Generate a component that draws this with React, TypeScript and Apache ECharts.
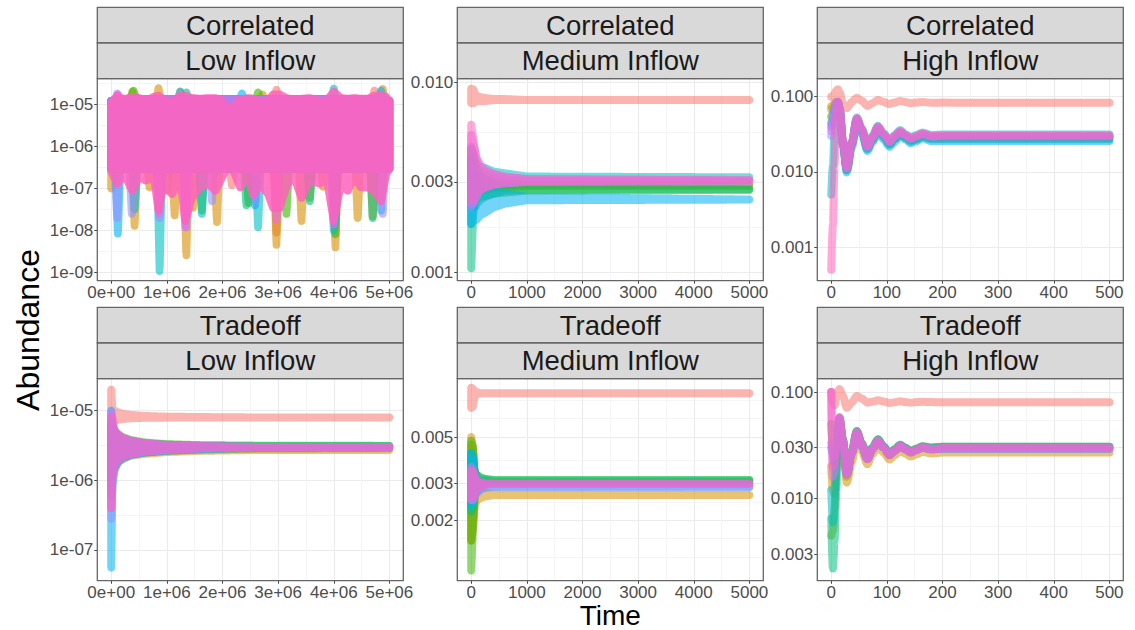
import React, { useEffect, useRef } from "react";
import * as echarts from "echarts";

const FONT = '"Liberation Sans", Arial, Helvetica, sans-serif';

// ggplot default hue palette for 10 species
const SPECIES_COLORS = ["#F8766D", "#D89000", "#A3A500", "#39B600", "#00BF7D", "#00BFC4", "#00B0F6", "#9590FF", "#E76BF3", "#FF62BC"];

const STRIP_TOP = ["Correlated", "Correlated", "Correlated", "Tradeoff", "Tradeoff", "Tradeoff"];
const STRIP_BOTTOM = ["Low Inflow", "Medium Inflow", "High Inflow", "Low Inflow", "Medium Inflow", "High Inflow"];
const X_TITLE = "Time";
const Y_TITLE = "Abundance";

// x axis ticks
const X_TICKS_LOW = [0, 1e6, 2e6, 3e6, 4e6, 5e6];
const X_LABELS_LOW = ["0e+00", "1e+06", "2e+06", "3e+06", "4e+06", "5e+06"];
const X_MINOR_LOW = [5e5, 1.5e6, 2.5e6, 3.5e6, 4.5e6];
const X_LIM_LOW = [-2.5e5, 5.25e6];
const X_TICKS_MED = [0, 1000, 2000, 3000, 4000, 5000];
const X_LABELS_MED = ["0", "1000", "2000", "3000", "4000", "5000"];
const X_MINOR_MED = [500, 1500, 2500, 3500, 4500];
const X_LIM_MED = [-250, 5250];
const X_TICKS_HIGH = [0, 100, 200, 300, 400, 500];
const X_LABELS_HIGH = ["0", "100", "200", "300", "400", "500"];
const X_MINOR_HIGH = [50, 150, 250, 350, 450];
const X_LIM_HIGH = [-25, 525];

// y axis ticks (abundance values, log10 scale) per panel
const Y_TICKS = [
  [1e-9, 1e-8, 1e-7, 1e-6, 1e-5],
  [0.001, 0.003, 0.01],
  [0.001, 0.01, 0.1],
  [1e-7, 1e-6, 1e-5],
  [0.002, 0.003, 0.005],
  [0.003, 0.01, 0.03, 0.1],
];
const Y_LABELS = [
  ["1e-09", "1e-08", "1e-07", "1e-06", "1e-05"],
  ["0.001", "0.003", "0.010"],
  ["0.001", "0.010", "0.100"],
  ["1e-07", "1e-06", "1e-05"],
  ["0.002", "0.003", "0.005"],
  ["0.003", "0.010", "0.030", "0.100"],
];
// minor grid lines, log10 units
const Y_MINOR_LOG = [
  [-8.5, -7.5, -6.5, -5.5, -4.5],
  [-2.7615, -2.2615],
  [-2.5, -1.5],
  [-6.5, -5.5],
  [-2.875, -2.787, -2.611, -2.412, -2.213, -2.125],
  [-2.2615, -1.7615, -1.2615],
];
// y limits, log10 units
const Y_LIM_LOG = [
  [-9.19, -4.392],
  [-3.044, -1.979],
  [-3.448, -0.7605],
  [-7.441, -4.541],
  [-2.988, -2.022],
  [-2.771, -0.875],
];

// ---------- Panel 1: Correlated / Low Inflow : [time, min, max] of fast oscillation per species
const corrLowBands: number[][][] = [
  [[0, 3e-7, 1.2e-5], [1.2e6, 3e-7, 1.3e-5], [1.24e6, 3e-7, 2.0e-5], [1.28e6, 3e-7, 1.3e-5], [2.13e6, 3e-7, 1.05e-5], [2.17e6, 1.2e-7, 1.1e-5], [2.21e6, 3e-7, 1.05e-5], [2.93e6, 3e-7, 1.3e-5], [2.97e6, 9e-9, 2.2e-5], [3.01e6, 3e-7, 1.3e-5], [4.69e6, 3e-7, 1.3e-5], [4.73e6, 3e-7, 2.1e-5], [4.77e6, 3e-7, 1.3e-5], [5.0e6, 3e-7, 1.2e-5]],
  [[0, 1.0e-7, 1.2e-5], [0.06e6, 3e-7, 1.3e-5], [0.38e6, 3e-7, 1.3e-5], [0.42e6, 1.3e-8, 1.3e-5], [0.46e6, 3e-7, 1.3e-5], [0.65e6, 3e-7, 1.3e-5], [0.69e6, 1.07e-7, 1.3e-5], [0.73e6, 3e-7, 1.3e-5], [0.81e6, 3e-7, 1.3e-5], [0.85e6, 3e-7, 2.4e-5], [0.89e6, 3e-7, 1.3e-5], [1.1e6, 3e-7, 1.3e-5], [1.14e6, 2.3e-8, 1.3e-5], [1.18e6, 3e-7, 1.3e-5], [1.31e6, 3e-7, 1.3e-5], [1.35e6, 2.6e-9, 1.3e-5], [1.39e6, 3e-7, 1.3e-5], [1.43e6, 3e-7, 1.3e-5], [1.47e6, 3.5e-8, 1.3e-5], [1.51e6, 3e-7, 1.3e-5], [1.86e6, 3e-7, 1.3e-5], [1.9e6, 1.6e-8, 1.3e-5], [1.94e6, 3e-7, 1.3e-5], [2.68e6, 3e-7, 1.3e-5], [2.72e6, 3e-7, 1.7e-5], [2.76e6, 3e-7, 1.3e-5], [2.93e6, 3e-7, 1.3e-5], [2.97e6, 4.6e-9, 1.3e-5], [3.01e6, 3e-7, 1.3e-5], [3.38e6, 3e-7, 1.3e-5], [3.42e6, 1.7e-8, 1.3e-5], [3.46e6, 3e-7, 1.3e-5], [3.77e6, 3e-7, 1.3e-5], [3.81e6, 1.1e-7, 1.3e-5], [3.85e6, 3e-7, 1.3e-5], [3.99e6, 3e-7, 1.3e-5], [4.03e6, 4.0e-9, 1.3e-5], [4.07e6, 3e-7, 1.3e-5], [4.39e6, 3e-7, 1.3e-5], [4.43e6, 2.0e-8, 1.3e-5], [4.47e6, 3e-7, 1.3e-5], [4.66e6, 3e-7, 1.3e-5], [4.7e6, 2.2e-8, 1.3e-5], [4.74e6, 3e-7, 1.3e-5], [4.84e6, 3e-7, 1.3e-5], [4.88e6, 3e-7, 2.3e-5], [4.92e6, 3e-7, 1.3e-5], [5.0e6, 3e-7, 1.2e-5]],
  [[0, 3e-7, 1.2e-5], [0.34e6, 3e-7, 1.3e-5], [0.38e6, 3e-7, 2.0e-5], [0.42e6, 3e-7, 1.3e-5], [0.96e6, 3e-7, 1.3e-5], [1.0e6, 8.9e-8, 1.3e-5], [1.04e6, 3e-7, 1.3e-5], [3.53e6, 3e-7, 1.3e-5], [3.57e6, 6e-8, 1.3e-5], [3.61e6, 3e-7, 1.3e-5], [5.0e6, 3e-7, 1.2e-5]],
  [[0, 3e-7, 1.2e-5], [0.34e6, 3e-7, 1.3e-5], [0.4e6, 3e-7, 2.1e-5], [0.46e6, 3e-7, 1.3e-5], [1.59e6, 3e-7, 1.3e-5], [1.63e6, 3e-8, 1.3e-5], [1.67e6, 3e-7, 1.3e-5], [2.43e6, 3e-7, 1.3e-5], [2.47e6, 4.5e-8, 1.3e-5], [2.51e6, 3e-7, 1.3e-5], [2.6e6, 3e-7, 1.3e-5], [2.64e6, 3e-7, 1.9e-5], [2.68e6, 3e-7, 1.3e-5], [3.11e6, 3e-7, 1.3e-5], [3.15e6, 2.5e-8, 1.3e-5], [3.19e6, 3e-7, 1.3e-5], [3.99e6, 3e-7, 1.3e-5], [4.03e6, 8.3e-9, 1.3e-5], [4.07e6, 3e-7, 1.3e-5], [5.0e6, 3e-7, 1.2e-5]],
  [[0, 3e-7, 1.2e-5], [1.31e6, 3e-7, 1.3e-5], [1.35e6, 3e-7, 1.9e-5], [1.39e6, 3e-7, 1.3e-5], [2.39e6, 3e-7, 1.3e-5], [2.43e6, 4e-8, 1.3e-5], [2.47e6, 3e-7, 1.3e-5], [3.53e6, 3e-7, 1.3e-5], [3.57e6, 5e-8, 1.3e-5], [3.61e6, 3e-7, 1.3e-5], [4.66e6, 3e-7, 1.3e-5], [4.7e6, 2e-8, 1.3e-5], [4.74e6, 3e-7, 1.3e-5], [5.0e6, 3e-7, 1.2e-5]],
  [[0, 3e-7, 1.2e-5], [0.38e6, 3e-7, 1.3e-5], [0.42e6, 3.2e-8, 1.3e-5], [0.46e6, 3e-7, 1.3e-5], [0.83e6, 3e-7, 1.3e-5], [0.87e6, 1.1e-9, 1.3e-5], [0.91e6, 3e-7, 1.3e-5], [1.2e6, 3e-7, 1.3e-5], [1.24e6, 3e-7, 2.0e-5], [1.28e6, 3e-7, 1.3e-5], [1.59e6, 3e-7, 1.3e-5], [1.63e6, 2.5e-8, 1.3e-5], [1.67e6, 3e-7, 1.3e-5], [2.6e6, 3e-7, 1.3e-5], [2.64e6, 1.2e-8, 1.3e-5], [2.68e6, 3e-7, 1.3e-5], [3.96e6, 3e-7, 1.3e-5], [4.0e6, 1.0e-8, 2.35e-5], [4.04e6, 3e-7, 1.3e-5], [5.0e6, 3e-7, 1.2e-5]],
  [[0, 3e-7, 1.2e-5], [0.08e6, 3e-7, 1.3e-5], [0.12e6, 8.5e-9, 1.3e-5], [0.16e6, 3e-7, 1.3e-5], [2.31e6, 3e-7, 1.3e-5], [2.35e6, 3e-7, 1.8e-5], [2.39e6, 3e-7, 1.3e-5], [2.54e6, 3e-7, 1.3e-5], [2.58e6, 4e-8, 1.3e-5], [2.62e6, 3e-7, 1.3e-5], [3.98e6, 3e-7, 1.3e-5], [4.02e6, 1.5e-8, 1.3e-5], [4.06e6, 3e-7, 1.3e-5], [4.81e6, 3e-7, 1.3e-5], [4.85e6, 3e-8, 2.1e-5], [4.89e6, 3e-7, 1.3e-5], [5.0e6, 3e-7, 1.2e-5]],
  [[0, 3e-7, 1.2e-5], [0.07e6, 3e-7, 1.3e-5], [0.107e6, 2e-8, 1.8e-5], [0.14e6, 3e-7, 1.3e-5], [0.33e6, 3e-7, 1.3e-5], [0.37e6, 2.5e-8, 1.3e-5], [0.41e6, 3e-7, 1.3e-5], [0.83e6, 3e-7, 1.3e-5], [0.87e6, 2e-8, 1.3e-5], [0.91e6, 3e-7, 1.3e-5], [1.31e6, 3e-7, 1.3e-5], [1.35e6, 1.2e-8, 1.3e-5], [1.39e6, 3e-7, 1.3e-5], [1.77e6, 3e-7, 1.3e-5], [1.81e6, 5e-8, 1.3e-5], [1.85e6, 3e-7, 1.3e-5], [2.56e6, 3e-7, 1.3e-5], [2.6e6, 5e-8, 1.3e-5], [2.64e6, 3e-7, 1.3e-5], [4.84e6, 3e-7, 1.3e-5], [4.88e6, 2.5e-8, 1.3e-5], [4.92e6, 3e-7, 1.3e-5], [5.0e6, 3e-7, 1.2e-5]],
  [[0, 3e-7, 1.2e-5], [0.08e6, 3e-7, 1.3e-5], [0.12e6, 3e-7, 1.7e-5], [0.16e6, 3e-7, 1.3e-5], [0.82e6, 3e-7, 1.3e-5], [0.86e6, 2.5e-8, 1.3e-5], [0.9e6, 3e-7, 1.3e-5], [1.29e6, 3e-7, 1.3e-5], [1.33e6, 1.2e-8, 1.3e-5], [1.37e6, 3e-7, 1.3e-5], [2.93e6, 3e-7, 1.3e-5], [2.97e6, 1.8e-8, 1.3e-5], [3.01e6, 3e-7, 1.3e-5], [3.96e6, 3e-7, 1.3e-5], [4.0e6, 1.4e-8, 1.3e-5], [4.04e6, 3e-7, 1.3e-5], [5.0e6, 3e-7, 1.2e-5]],
  [[0, 2.6e-7, 1.0e-5], [0.11e6, 1.3e-7, 1.6e-5], [0.23e6, 2.2e-7, 1.3e-5], [0.38e6, 8.9e-8, 1.5e-5], [0.5e6, 1.9e-7, 1.4e-5], [0.62e6, 1.55e-7, 1.2e-5], [0.77e6, 1.9e-7, 1.5e-5], [0.85e6, 3.0e-8, 1.6e-5], [0.94e6, 1.3e-7, 1.3e-5], [1.09e6, 7.4e-8, 1.1e-5], [1.24e6, 1.9e-7, 1.6e-5], [1.33e6, 1.7e-8, 1.6e-5], [1.45e6, 6.0e-8, 1.4e-5], [1.6e6, 1.07e-7, 1.35e-5], [1.75e6, 1.3e-7, 1.4e-5], [1.87e6, 8.9e-8, 1.4e-5], [1.96e6, 1.5e-7, 1.3e-5], [2.08e6, 3.2e-7, 8.5e-6], [2.2e6, 2.6e-7, 8.5e-6], [2.32e6, 1.07e-7, 1.3e-5], [2.47e6, 1.9e-7, 1.4e-5], [2.55e6, 7.0e-8, 1.35e-5], [2.67e6, 1.3e-7, 1.2e-5], [2.82e6, 7.4e-8, 1.2e-5], [2.91e6, 3.5e-8, 1.7e-5], [3.03e6, 3.5e-8, 1.7e-5], [3.15e6, 1.1e-7, 1.4e-5], [3.27e6, 2.2e-7, 1.3e-5], [3.42e6, 6.0e-8, 1.35e-5], [3.57e6, 1.55e-7, 1.4e-5], [3.75e6, 1.3e-7, 1.2e-5], [3.87e6, 1.9e-7, 1.2e-5], [4.0e6, 1.7e-8, 2.0e-5], [4.13e6, 1.3e-7, 1.4e-5], [4.25e6, 8.9e-8, 1.35e-5], [4.37e6, 1.9e-7, 1.4e-5], [4.49e6, 1.07e-7, 1.35e-5], [4.61e6, 1.07e-7, 1.35e-5], [4.73e6, 8.9e-8, 1.6e-5], [4.85e6, 5.0e-8, 1.6e-5], [4.94e6, 2.2e-7, 1.5e-5], [5.0e6, 3.0e-7, 1.2e-5]],
];

// ---------- Panel 2: Correlated / Medium Inflow (min / max of damped oscillation)
const corrMedTime = [0, 40, 70, 100, 160, 250, 400, 600, 1000, 5000];
const corrMedLow = [
  [0.0078, 0.0078, 0.0079, 0.008, 0.008, 0.008, 0.0081, 0.0081, 0.0081, 0.0081],
  [0.0023, 0.0023, 0.0025, 0.0026, 0.0027, 0.0028, 0.00285, 0.00288, 0.0029, 0.0029],
  [0.0024, 0.0024, 0.0025, 0.0026, 0.0027, 0.0027, 0.0028, 0.0028, 0.00285, 0.00285],
  [0.0022, 0.0022, 0.0023, 0.00243, 0.0025, 0.00253, 0.0026, 0.00263, 0.0027, 0.00272],
  [0.00105, 0.0022, 0.0022, 0.0023, 0.0024, 0.0025, 0.0026, 0.0027, 0.00273, 0.00275],
  [0.0018, 0.0022, 0.0025, 0.0026, 0.0027, 0.0028, 0.0029, 0.003, 0.0031, 0.00317],
  [0.0018, 0.00187, 0.00188, 0.0019, 0.002, 0.00206, 0.0022, 0.0023, 0.0024, 0.00242],
  [0.0022, 0.0024, 0.0025, 0.0026, 0.0027, 0.0028, 0.0029, 0.00295, 0.003, 0.003],
  [0.0023, 0.0023, 0.0024, 0.0025, 0.00275, 0.0028, 0.0029, 0.00295, 0.003, 0.00305],
  [0.0024, 0.0024, 0.0025, 0.0026, 0.0027, 0.0028, 0.0029, 0.003, 0.00303, 0.00307],
];
const corrMedHigh = [
  [0.0093, 0.0092, 0.0087, 0.0085, 0.0084, 0.0083, 0.0082, 0.0082, 0.0081, 0.0081],
  [0.0045, 0.0042, 0.0038, 0.0035, 0.0033, 0.0031, 0.003, 0.00295, 0.0029, 0.0029],
  [0.0042, 0.004, 0.0036, 0.0034, 0.0032, 0.0031, 0.003, 0.0029, 0.00285, 0.00285],
  [0.004, 0.0038, 0.0035, 0.0033, 0.0032, 0.003, 0.0029, 0.0028, 0.00275, 0.00272],
  [0.004, 0.0038, 0.0035, 0.0033, 0.0032, 0.0031, 0.0029, 0.0028, 0.0028, 0.00275],
  [0.0045, 0.0042, 0.0039, 0.00373, 0.0036, 0.00355, 0.0034, 0.00333, 0.0032, 0.00317],
  [0.0038, 0.0036, 0.0032, 0.003, 0.0029, 0.0028, 0.0027, 0.0026, 0.0025, 0.00242],
  [0.0046, 0.0042, 0.0037, 0.0035, 0.0034, 0.0033, 0.0032, 0.0031, 0.00302, 0.003],
  [0.0053, 0.0047, 0.0044, 0.004, 0.0037, 0.0035, 0.0033, 0.00318, 0.0031, 0.00305],
  [0.006, 0.005, 0.0043, 0.0039, 0.0036, 0.0034, 0.0033, 0.0032, 0.0031, 0.00307],
];

// ---------- Panels 3 and 6: High Inflow (slow damped oscillation)
const highTime = [0, 3, 6, 9, 12, 15, 21, 28, 37, 46, 55, 65, 74, 84, 94, 105, 114, 124, 133, 143, 153, 164, 180, 200, 250, 350, 500];
const corrHighValues = [
  [0.1, 0.1, 0.11, 0.12, 0.126, 0.115, 0.08, 0.07, 0.085, 0.097, 0.088, 0.0752, 0.082, 0.0903, 0.085, 0.08, 0.084, 0.0877, 0.085, 0.082, 0.084, 0.085, 0.083, 0.0835, 0.0832, 0.0832, 0.0832],
  [0.075, 0.078, 0.082, 0.085, 0.083, 0.068, 0.024, 0.0105, 0.023, 0.049, 0.035, 0.0205, 0.027, 0.037, 0.03, 0.0235, 0.0275, 0.0325, 0.029, 0.026, 0.0275, 0.03, 0.028, 0.028, 0.028, 0.028, 0.028],
  [0.068, 0.072, 0.078, 0.084, 0.084, 0.069, 0.025, 0.011, 0.024, 0.05, 0.036, 0.021, 0.028, 0.038, 0.031, 0.024, 0.028, 0.033, 0.0295, 0.0265, 0.028, 0.0305, 0.0288, 0.029, 0.029, 0.029, 0.029],
  [0.055, 0.06, 0.07, 0.08, 0.084, 0.07, 0.025, 0.011, 0.024, 0.05, 0.036, 0.0212, 0.028, 0.038, 0.031, 0.0242, 0.0285, 0.0333, 0.0298, 0.0268, 0.0283, 0.031, 0.029, 0.0292, 0.0292, 0.0292, 0.0292],
  [0.045, 0.052, 0.064, 0.078, 0.082, 0.068, 0.023, 0.0105, 0.023, 0.048, 0.034, 0.02, 0.026, 0.036, 0.029, 0.0228, 0.027, 0.0315, 0.028, 0.0252, 0.0267, 0.029, 0.0272, 0.0272, 0.0272, 0.0272, 0.0272],
  [0.005, 0.012, 0.032, 0.07, 0.085, 0.071, 0.026, 0.0115, 0.025, 0.053, 0.038, 0.022, 0.03, 0.041, 0.033, 0.026, 0.031, 0.036, 0.032, 0.029, 0.031, 0.0335, 0.031, 0.0315, 0.0315, 0.0315, 0.0315],
  [0.04, 0.05, 0.065, 0.08, 0.08, 0.065, 0.022, 0.0098, 0.021, 0.045, 0.032, 0.019, 0.025, 0.034, 0.027, 0.0215, 0.025, 0.03, 0.027, 0.024, 0.0255, 0.028, 0.0255, 0.0258, 0.0258, 0.0258, 0.0258],
  [0.03, 0.042, 0.06, 0.08, 0.085, 0.07, 0.025, 0.011, 0.024, 0.051, 0.036, 0.021, 0.028, 0.039, 0.031, 0.0245, 0.029, 0.034, 0.03, 0.027, 0.029, 0.0315, 0.029, 0.0295, 0.0295, 0.0295, 0.0295],
  [0.035, 0.05, 0.07, 0.085, 0.086, 0.07, 0.025, 0.0112, 0.024, 0.052, 0.037, 0.0216, 0.029, 0.04, 0.032, 0.0252, 0.03, 0.035, 0.031, 0.028, 0.03, 0.0326, 0.03, 0.0305, 0.0305, 0.0305, 0.0305],
  [0.0005, 0.002, 0.012, 0.05, 0.085, 0.072, 0.026, 0.0115, 0.025, 0.051, 0.037, 0.022, 0.029, 0.0395, 0.032, 0.0255, 0.03, 0.0345, 0.031, 0.0282, 0.03, 0.0322, 0.03, 0.0303, 0.0303, 0.0303, 0.0303],
];

// ---------- Panel 4: Tradeoff / Low Inflow
const tradeLowTime = [0, 0.02e6, 0.06e6, 0.12e6, 0.2e6, 0.35e6, 0.6e6, 1.0e6, 1.6e6, 2.5e6, 5.0e6];
const tradeLowLow = [
  [7e-6, 7e-6, 7.2e-6, 7.4e-6, 7.6e-6, 7.8e-6, 7.9e-6, 7.95e-6, 8e-6, 8e-6, 8e-6],
  [8e-7, 1.2e-6, 1.5e-6, 1.8e-6, 2e-6, 2.25e-6, 2.4e-6, 2.55e-6, 2.65e-6, 2.72e-6, 2.72e-6],
  [1.2e-6, 1.3e-6, 1.6e-6, 1.9e-6, 2.1e-6, 2.35e-6, 2.5e-6, 2.65e-6, 2.75e-6, 2.85e-6, 2.9e-6],
  [1e-6, 1.3e-6, 1.6e-6, 1.9e-6, 2.2e-6, 2.4e-6, 2.6e-6, 2.8e-6, 2.95e-6, 3.05e-6, 3.12e-6],
  [1.1e-6, 1.4e-6, 1.7e-6, 2e-6, 2.2e-6, 2.4e-6, 2.6e-6, 2.8e-6, 2.95e-6, 3.05e-6, 3.1e-6],
  [6e-7, 1.2e-6, 1.6e-6, 1.9e-6, 2.1e-6, 2.35e-6, 2.55e-6, 2.7e-6, 2.85e-6, 2.95e-6, 3e-6],
  [5.6e-8, 8e-7, 1.4e-6, 1.8e-6, 2.05e-6, 2.3e-6, 2.5e-6, 2.65e-6, 2.8e-6, 2.9e-6, 2.95e-6],
  [2.8e-7, 1e-6, 1.5e-6, 1.9e-6, 2.1e-6, 2.35e-6, 2.55e-6, 2.7e-6, 2.85e-6, 2.95e-6, 2.98e-6],
  [4e-7, 1.2e-6, 1.6e-6, 1.95e-6, 2.15e-6, 2.4e-6, 2.6e-6, 2.75e-6, 2.9e-6, 2.98e-6, 3e-6],
  [4e-7, 1.3e-6, 1.7e-6, 2e-6, 2.2e-6, 2.4e-6, 2.6e-6, 2.75e-6, 2.9e-6, 2.98e-6, 3e-6],
];
const tradeLowHigh = [
  [2e-5, 1.05e-5, 1.0e-5, 9.5e-6, 9e-6, 8.7e-6, 8.4e-6, 8.2e-6, 8.1e-6, 8e-6, 8e-6],
  [5e-6, 5e-6, 4.2e-6, 3.8e-6, 3.5e-6, 3.2e-6, 3e-6, 2.85e-6, 2.78e-6, 2.72e-6, 2.72e-6],
  [5.8e-6, 5.5e-6, 4.6e-6, 4.1e-6, 3.7e-6, 3.4e-6, 3.2e-6, 3.05e-6, 2.95e-6, 2.9e-6, 2.9e-6],
  [7e-6, 6e-6, 5.2e-6, 4.6e-6, 4.2e-6, 3.8e-6, 3.5e-6, 3.3e-6, 3.2e-6, 3.15e-6, 3.12e-6],
  [6e-6, 5.6e-6, 4.9e-6, 4.4e-6, 4e-6, 3.7e-6, 3.4e-6, 3.25e-6, 3.15e-6, 3.1e-6, 3.1e-6],
  [6.5e-6, 5.5e-6, 4.8e-6, 4.3e-6, 3.9e-6, 3.6e-6, 3.35e-6, 3.2e-6, 3.1e-6, 3.02e-6, 3e-6],
  [1e-5, 6e-6, 4.9e-6, 4.3e-6, 3.9e-6, 3.55e-6, 3.3e-6, 3.15e-6, 3.05e-6, 2.98e-6, 2.95e-6],
  [9.5e-6, 6.5e-6, 5e-6, 4.4e-6, 4e-6, 3.6e-6, 3.35e-6, 3.15e-6, 3.05e-6, 3e-6, 2.98e-6],
  [9e-6, 7e-6, 5.2e-6, 4.6e-6, 4.1e-6, 3.7e-6, 3.4e-6, 3.2e-6, 3.1e-6, 3.02e-6, 3e-6],
  [8e-6, 8e-6, 5.2e-6, 4.6e-6, 4.1e-6, 3.7e-6, 3.4e-6, 3.2e-6, 3.1e-6, 3.02e-6, 3e-6],
];

// ---------- Panel 5: Tradeoff / Medium Inflow
const tradeMedTime = [0, 30, 60, 100, 160, 250, 400, 5000];
const tradeMedLow = [
  [0.0069, 0.007, 0.0078, 0.008, 0.0081, 0.0081, 0.0081, 0.0081],
  [0.0016, 0.0018, 0.0023, 0.0025, 0.00255, 0.0026, 0.00264, 0.00264],
  [0.0016, 0.002, 0.0026, 0.0028, 0.0029, 0.003, 0.00305, 0.00305],
  [0.00115, 0.0018, 0.0026, 0.0028, 0.0029, 0.003, 0.0031, 0.0031],
  [0.0022, 0.0023, 0.0027, 0.0029, 0.003, 0.0031, 0.00312, 0.00312],
  [0.0023, 0.0024, 0.0026, 0.0028, 0.0029, 0.00298, 0.003, 0.003],
  [0.0024, 0.0025, 0.0026, 0.0027, 0.0028, 0.00288, 0.0029, 0.0029],
  [0.0025, 0.0025, 0.0026, 0.0027, 0.0028, 0.00285, 0.00288, 0.00288],
  [0.0025, 0.0025, 0.0026, 0.0028, 0.0029, 0.00295, 0.00298, 0.00298],
  [0.0026, 0.0026, 0.0027, 0.0028, 0.0029, 0.00296, 0.003, 0.003],
];
const tradeMedHigh = [
  [0.0086, 0.0085, 0.0083, 0.0082, 0.0081, 0.0081, 0.0081, 0.0081],
  [0.005, 0.0045, 0.0032, 0.0029, 0.0028, 0.0027, 0.00266, 0.00264],
  [0.0046, 0.0044, 0.0034, 0.0032, 0.0031, 0.0031, 0.00305, 0.00305],
  [0.0048, 0.0045, 0.0034, 0.0033, 0.0032, 0.00315, 0.0031, 0.0031],
  [0.0042, 0.004, 0.0034, 0.0033, 0.0032, 0.00315, 0.00312, 0.00312],
  [0.004, 0.0038, 0.0033, 0.0032, 0.0031, 0.00305, 0.003, 0.003],
  [0.0042, 0.004, 0.0033, 0.0031, 0.003, 0.0029, 0.0029, 0.0029],
  [0.0036, 0.0035, 0.0032, 0.0031, 0.003, 0.0029, 0.00288, 0.00288],
  [0.0034, 0.0034, 0.0033, 0.0031, 0.003, 0.003, 0.00298, 0.00298],
  [0.0035, 0.0034, 0.0032, 0.0031, 0.00305, 0.003, 0.003, 0.003],
];

// ---------- Panel 6: Tradeoff / High Inflow
const tradeHighValues = [
  [0.1, 0.08, 0.075, 0.088, 0.1, 0.107, 0.092, 0.071, 0.08, 0.092, 0.087, 0.0794, 0.081, 0.0836, 0.0815, 0.079, 0.08, 0.082, 0.0805, 0.0795, 0.0805, 0.081, 0.0805, 0.08, 0.08, 0.08, 0.08],
  [0.02, 0.012, 0.011, 0.018, 0.035, 0.05, 0.03, 0.0141, 0.022, 0.037, 0.028, 0.021, 0.026, 0.031, 0.027, 0.0232, 0.0255, 0.028, 0.0265, 0.0248, 0.026, 0.0275, 0.0265, 0.027, 0.027, 0.027, 0.027],
  [0.0045, 0.005, 0.008, 0.02, 0.042, 0.055, 0.034, 0.016, 0.026, 0.041, 0.031, 0.0235, 0.029, 0.0345, 0.03, 0.0255, 0.028, 0.031, 0.029, 0.027, 0.0285, 0.0302, 0.029, 0.0296, 0.0296, 0.0296, 0.0296],
  [0.05, 0.03, 0.022, 0.03, 0.048, 0.058, 0.036, 0.0175, 0.028, 0.043, 0.033, 0.0245, 0.03, 0.036, 0.031, 0.0265, 0.029, 0.032, 0.0302, 0.028, 0.0295, 0.031, 0.0302, 0.0307, 0.0307, 0.0307, 0.0307],
  [0.0065, 0.0022, 0.004, 0.012, 0.03, 0.05, 0.036, 0.0175, 0.028, 0.043, 0.033, 0.024, 0.03, 0.036, 0.031, 0.026, 0.029, 0.032, 0.03, 0.0278, 0.029, 0.031, 0.03, 0.0307, 0.0307, 0.0307, 0.0307],
  [0.012, 0.006, 0.01, 0.025, 0.045, 0.055, 0.035, 0.017, 0.027, 0.042, 0.032, 0.0238, 0.0295, 0.0352, 0.0305, 0.026, 0.0285, 0.0315, 0.0298, 0.0275, 0.029, 0.0305, 0.0295, 0.03, 0.03, 0.03, 0.03],
  [0.03, 0.025, 0.022, 0.03, 0.047, 0.056, 0.034, 0.0168, 0.027, 0.041, 0.031, 0.0235, 0.029, 0.0345, 0.03, 0.0256, 0.028, 0.031, 0.029, 0.0272, 0.0285, 0.03, 0.029, 0.0293, 0.0293, 0.0293, 0.0293],
  [0.033, 0.03, 0.025, 0.032, 0.048, 0.056, 0.034, 0.017, 0.027, 0.041, 0.031, 0.0235, 0.029, 0.0345, 0.03, 0.0258, 0.028, 0.031, 0.029, 0.0272, 0.0285, 0.03, 0.029, 0.0293, 0.0293, 0.0293, 0.0293],
  [0.1, 0.016, 0.018, 0.03, 0.05, 0.058, 0.035, 0.0169, 0.027, 0.0419, 0.032, 0.0234, 0.029, 0.035, 0.03, 0.0255, 0.028, 0.0314, 0.029, 0.027, 0.0285, 0.0303, 0.029, 0.0297, 0.0297, 0.0297, 0.0297],
  [0.1, 0.02, 0.022, 0.033, 0.05, 0.057, 0.035, 0.017, 0.027, 0.042, 0.032, 0.0236, 0.029, 0.035, 0.03, 0.0256, 0.0282, 0.0312, 0.0292, 0.0272, 0.0287, 0.0302, 0.0292, 0.0298, 0.0298, 0.0298, 0.0298],
];

// ---------------------------------------------------------------- layout
const COL_LEFT = [97.3, 457.3, 817.3];
const ROW_TOP = [78.7, 378.7];
const PANEL_W = 306;
const PANEL_H = 202;
const STRIP_H = 35.7;
const POINT_R = 4;

function closestLabel(v: number, vals: number[], labels: string[]) {
  let bi = 0;
  let bd = Infinity;
  vals.forEach((x, i) => {
    const d = Math.abs(x - v);
    if (d < bd) {
      bd = d;
      bi = i;
    }
  });
  return labels[bi];
}

function interpY(pts: number[][], x: number) {
  const n = pts.length;
  if (x <= pts[0][0]) return pts[0][1];
  if (x >= pts[n - 1][0]) return pts[n - 1][1];
  let lo = 0;
  let hi = n - 1;
  while (hi - lo > 1) {
    const mid = (lo + hi) >> 1;
    if (pts[mid][0] <= x) lo = mid;
    else hi = mid;
  }
  const a = pts[lo];
  const b = pts[hi];
  const span = b[0] - a[0];
  const f = span > 0 ? (x - a[0]) / span : 0;
  return a[1] + f * (b[1] - a[1]);
}

// outline of the band swept by round points of radius r between the lower and upper pixel chains
function thickBand(up: number[][], lo: number[][], r: number) {
  const x0 = up[0][0];
  const x1 = up[up.length - 1][0];
  const top: number[][] = [];
  const bot: number[][] = [];
  for (let X = x0 - r; X <= x1 + r + 1e-6; X += 0.5) {
    let t = Infinity;
    let b = -Infinity;
    for (let dx = -r; dx <= r + 1e-6; dx += 0.5) {
      const xx = X + dx;
      if (xx < x0 || xx > x1) continue;
      const h = Math.sqrt(Math.max(0, r * r - dx * dx));
      const u = interpY(up, xx) - h;
      if (u < t) t = u;
      const l = interpY(lo, xx) + h;
      if (l > b) b = l;
    }
    for (let i = 0; i < up.length; i++) {
      const dx = up[i][0] - X;
      if (dx < -r || dx > r) continue;
      const h = Math.sqrt(Math.max(0, r * r - dx * dx));
      if (up[i][1] - h < t) t = up[i][1] - h;
      if (lo[i][1] + h > b) b = lo[i][1] + h;
    }
    if (t === Infinity) continue;
    top.push([X, t]);
    bot.push([X, b]);
  }
  return top.concat(bot.reverse());
}

function bandSeries(axisIndex: number, rows: number[][], color: string, opacity: number) {
  const logRows = rows.map((r) => [r[0], Math.log10(r[1]), Math.log10(r[2])]);
  return {
    type: "custom",
    coordinateSystem: "cartesian2d",
    xAxisIndex: axisIndex,
    yAxisIndex: axisIndex,
    data: logRows,
    encode: { x: 0, y: [1, 2] },
    silent: true,
    clip: true,
    renderItem: (params: any, api: any) => {
      if (params.dataIndex !== 0) return null;
      const up = logRows.map((r) => api.coord([r[0], r[2]]));
      const lo = logRows.map((r) => api.coord([r[0], r[1]]));
      return {
        type: "polygon",
        shape: { points: thickBand(up, lo, POINT_R) },
        style: { fill: color, opacity },
      };
    },
  };
}

function lineSeries(axisIndex: number, time: number[], values: number[], color: string) {
  return {
    type: "line",
    xAxisIndex: axisIndex,
    yAxisIndex: axisIndex,
    data: time.map((t, k) => [t, Math.log10(values[k])]),
    showSymbol: false,
    symbol: "none",
    smooth: 0.3,
    smoothMonotone: "x",
    silent: true,
    clip: true,
    emphasis: { disabled: true },
    lineStyle: { color, width: POINT_R * 2, opacity: 0.55, cap: "round", join: "round" },
  };
}

function envelopeRows(time: number[], low: number[], high: number[]) {
  return time.map((t, k) => [t, low[k], high[k]]);
}

function buildOption() {
  const panels = [
    { xTicks: X_TICKS_LOW, xLabels: X_LABELS_LOW, xMinor: X_MINOR_LOW, xLim: X_LIM_LOW,
      series: (ax: number) => corrLowBands.map((rows, s) => bandSeries(ax, rows, SPECIES_COLORS[s], s === 9 ? 0.85 : 0.6)) },
    { xTicks: X_TICKS_MED, xLabels: X_LABELS_MED, xMinor: X_MINOR_MED, xLim: X_LIM_MED,
      series: (ax: number) => corrMedLow.map((low, s) => bandSeries(ax, envelopeRows(corrMedTime, low, corrMedHigh[s]), SPECIES_COLORS[s], 0.55)) },
    { xTicks: X_TICKS_HIGH, xLabels: X_LABELS_HIGH, xMinor: X_MINOR_HIGH, xLim: X_LIM_HIGH,
      series: (ax: number) => corrHighValues.map((vals, s) => lineSeries(ax, highTime, vals, SPECIES_COLORS[s])) },
    { xTicks: X_TICKS_LOW, xLabels: X_LABELS_LOW, xMinor: X_MINOR_LOW, xLim: X_LIM_LOW,
      series: (ax: number) => tradeLowLow.map((low, s) => bandSeries(ax, envelopeRows(tradeLowTime, low, tradeLowHigh[s]), SPECIES_COLORS[s], 0.55)) },
    { xTicks: X_TICKS_MED, xLabels: X_LABELS_MED, xMinor: X_MINOR_MED, xLim: X_LIM_MED,
      series: (ax: number) => tradeMedLow.map((low, s) => bandSeries(ax, envelopeRows(tradeMedTime, low, tradeMedHigh[s]), SPECIES_COLORS[s], 0.55)) },
    { xTicks: X_TICKS_HIGH, xLabels: X_LABELS_HIGH, xMinor: X_MINOR_HIGH, xLim: X_LIM_HIGH,
      series: (ax: number) => tradeHighValues.map((vals, s) => lineSeries(ax, highTime, vals, SPECIES_COLORS[s])) },
  ];

  const grid: any[] = [];
  const xAxis: any[] = [];
  const yAxis: any[] = [];
  const series: any[] = [];
  const graphic: any[] = [];

  panels.forEach((p, i) => {
    const col = i % 3;
    const row = Math.floor(i / 3);
    const L = COL_LEFT[col];
    const T = ROW_TOP[row];
    grid.push({ left: L, top: T, width: PANEL_W, height: PANEL_H, containLabel: false, outerBoundsMode: "none", show: false });

    const yTickLog = Y_TICKS[i].map((v) => Math.log10(v));
    const majorX = {
      type: "value", gridIndex: i, min: p.xLim[0], max: p.xLim[1], position: "bottom",
      axisLine: { show: false, onZero: false },
      axisTick: { show: true, length: 3, customValues: p.xTicks, lineStyle: { color: "#444", width: 1 } },
      axisLabel: { show: true, customValues: p.xTicks, margin: 3, color: "#4D4D4D", fontSize: 17, fontFamily: FONT,
        formatter: (v: number) => closestLabel(v, p.xTicks, p.xLabels) },
      splitLine: { show: true, lineStyle: { color: "#EBEBEB", width: 1.1 } },
      minorTick: { show: false }, minorSplitLine: { show: false },
    };
    const minorX = {
      type: "value", gridIndex: i, min: p.xLim[0], max: p.xLim[1], position: "bottom",
      axisLine: { show: false, onZero: false },
      axisTick: { show: false, customValues: p.xMinor },
      axisLabel: { show: false, customValues: p.xMinor },
      splitLine: { show: true, lineStyle: { color: "#F3F3F3", width: 0.8 } },
    };
    const majorY = {
      type: "value", gridIndex: i, min: Y_LIM_LOG[i][0], max: Y_LIM_LOG[i][1], position: "left",
      axisLine: { show: false, onZero: false },
      axisTick: { show: true, length: 3, customValues: yTickLog, lineStyle: { color: "#444", width: 1 } },
      axisLabel: { show: true, customValues: yTickLog, margin: 4, color: "#4D4D4D", fontSize: 17, fontFamily: FONT,
        formatter: (v: number) => closestLabel(v, yTickLog, Y_LABELS[i]) },
      splitLine: { show: true, lineStyle: { color: "#EBEBEB", width: 1.1 } },
      minorTick: { show: false }, minorSplitLine: { show: false },
    };
    const minorY = {
      type: "value", gridIndex: i, min: Y_LIM_LOG[i][0], max: Y_LIM_LOG[i][1], position: "left",
      axisLine: { show: false, onZero: false },
      axisTick: { show: false, customValues: Y_MINOR_LOG[i] },
      axisLabel: { show: false, customValues: Y_MINOR_LOG[i] },
      splitLine: { show: true, lineStyle: { color: "#F3F3F3", width: 0.8 } },
    };
    xAxis.push(majorX, minorX);
    yAxis.push(majorY, minorY);
    p.series(2 * i).forEach((s: any) => series.push(s));

    // strips and panel frame
    graphic.push(
      { type: "rect", z: 100, shape: { x: L, y: T - 2 * STRIP_H, width: PANEL_W, height: STRIP_H },
        style: { fill: "#D9D9D9", stroke: "#666", lineWidth: 1.3 } },
      { type: "rect", z: 100, shape: { x: L, y: T - STRIP_H, width: PANEL_W, height: STRIP_H },
        style: { fill: "#D9D9D9", stroke: "#666", lineWidth: 1.3 } },
      { type: "text", z: 101, x: L + PANEL_W / 2, y: T - 1.5 * STRIP_H,
        style: { text: STRIP_TOP[i], fontSize: 27.5, fontFamily: FONT, fill: "#1A1A1A",
          align: "center", verticalAlign: "middle", textAlign: "center", textVerticalAlign: "middle" } },
      { type: "text", z: 101, x: L + PANEL_W / 2, y: T - 0.5 * STRIP_H,
        style: { text: STRIP_BOTTOM[i], fontSize: 27.5, fontFamily: FONT, fill: "#1A1A1A",
          align: "center", verticalAlign: "middle", textAlign: "center", textVerticalAlign: "middle" } },
      { type: "rect", z: 100, shape: { x: L, y: T, width: PANEL_W, height: PANEL_H },
        style: { fill: "none", stroke: "#666", lineWidth: 1.3 } }
    );
  });

  graphic.push(
    { type: "text", z: 101, x: (COL_LEFT[0] + COL_LEFT[2] + PANEL_W) / 2, y: 615.5,
      style: { text: X_TITLE, fontSize: 28, fontFamily: FONT, fill: "#000",
        align: "center", verticalAlign: "middle", textAlign: "center", textVerticalAlign: "middle" } },
    { type: "text", z: 101, x: 27.6, y: 330, rotation: Math.PI / 2,
      style: { text: Y_TITLE, fontSize: 32, fontFamily: FONT, fill: "#000",
        align: "center", verticalAlign: "middle", textAlign: "center", textVerticalAlign: "middle" } }
  );

  return {
    animation: false,
    backgroundColor: "#fff",
    textStyle: { fontFamily: FONT },
    grid,
    xAxis,
    yAxis,
    series,
    graphic,
  };
}

export default function App() {
  const ref = useRef<HTMLDivElement>(null);
  useEffect(() => {
    if (!ref.current) return;
    const chart = echarts.init(ref.current, null, { renderer: "svg" });
    chart.setOption(buildOption() as any);
    return () => chart.dispose();
  }, []);
  return (
    <div
      ref={ref}
      style={{ position: "absolute", left: 0, top: 0, width: 1135, height: 630, background: "#fff" }}
    />
  );
}
